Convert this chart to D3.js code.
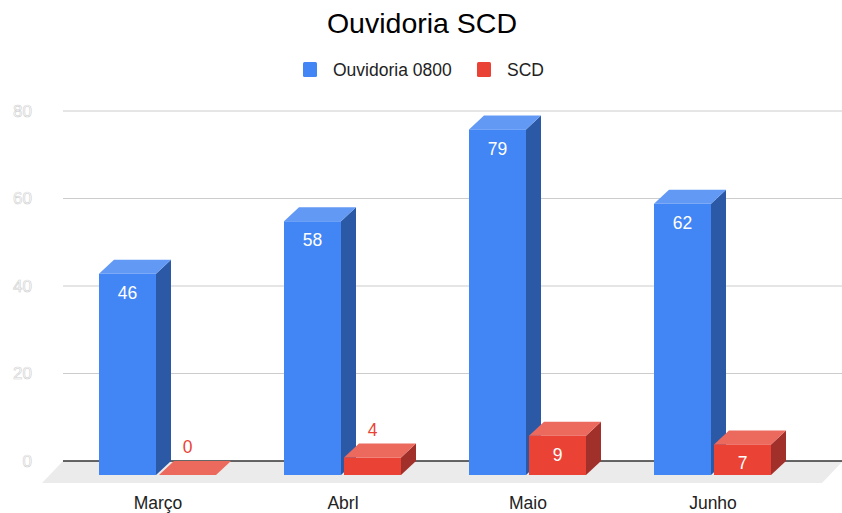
<!DOCTYPE html>
<html>
<head>
<meta charset="utf-8">
<script src="https://cdn.jsdelivr.net/npm/d3@7"></script>
<style>
  body { margin: 0; background: #fff; }
  svg { font-family: "Liberation Sans", Arial, sans-serif; }
</style>
</head>
<body>
<div id="chart"></div>
<script>
// data
const months = ["Março", "Abrl", "Maio", "Junho"];
const seriesNames = ["Ouvidoria 0800", "SCD"];
const ouvidoria = [46, 58, 79, 62];
const scd = [0, 4, 9, 7];
const yTicks = [0, 20, 40, 60, 80];

const width = 842, height = 513;
const left = 63, right = 843;
const dx = 15, dy = 14;     // 3d depth of bars
const floorDepth = 22;

const colors = {
  "Ouvidoria 0800": { front: "#4285f4", top: "#6299f5", side: "#2c59a5" },
  "SCD": { front: "#ea4335", top: "#ec695d", side: "#a2302a" }
};

const rows = months.map((m, i) => ({ month: m, values: [
  { s: seriesNames[0], v: ouvidoria[i] },
  { s: seriesNames[1], v: scd[i] }
]}));

let y = d3.scaleLinear().domain([0, 80]).range([461, 111]);
let x = d3.scaleBand().domain(months).range([65.5, 805.5]);
let xs = d3.scaleBand().domain(seriesNames).range([-59, 58]).paddingInner(0.05);

let svg = d3.select("#chart").append("svg")
  .attr("width", width)
  .attr("height", height);

// title
svg.append("text")
  .attr("x", 422).attr("y", 33)
  .attr("text-anchor", "middle")
  .attr("font-size", 28.5)
  .attr("fill", "#000")
  .text("Ouvidoria SCD");

// legend
const legendX = [303, 477];
let lg = svg.selectAll(".legend").data(seriesNames).enter().append("g")
  .attr("class", "legend")
  .attr("transform", (d, i) => "translate(" + legendX[i] + ",62)");
lg.append("rect").attr("width", 14).attr("height", 15).attr("rx", 1.5)
  .attr("fill", d => colors[d].front);
lg.append("text").attr("x", 30).attr("y", 14)
  .attr("font-size", 17.5).attr("fill", "#222").text(d => d);

// gridlines
svg.selectAll(".grid").data(yTicks.filter(t => t > 0)).enter().append("line")
  .attr("x1", left).attr("x2", right)
  .attr("y1", d => y(d)).attr("y2", d => y(d))
  .attr("stroke", "#cccccc").attr("stroke-width", 1);

// y tick labels (white with outline)
svg.selectAll(".ytick").data(yTicks).enter().append("text")
  .attr("x", 32).attr("y", d => y(d))
  .attr("dy", "0.35em")
  .attr("text-anchor", "end")
  .attr("font-size", 17)
  .attr("fill", "#fff")
  .attr("stroke", "#cfcfcf").attr("stroke-width", 0.6)
  .text(d => d);

// floor
svg.append("path")
  .attr("d", d3.line()([
    [left, y(0)], [right, y(0)],
    [right - floorDepth + 1, y(0) + floorDepth], [left - floorDepth + 1, y(0) + floorDepth]
  ]) + "Z")
  .attr("fill", "#ebebeb");

svg.append("line")
  .attr("x1", left).attr("x2", right)
  .attr("y1", y(0)).attr("y2", y(0))
  .attr("stroke", "#333").attr("stroke-width", 1.5);

// bars
const line = d3.line();
let groups = svg.selectAll(".month").data(rows).enter().append("g")
  .attr("class", "month")
  .attr("transform", d => "translate(" + (x(d.month) + x.bandwidth() / 2) + ",0)");

let bars = groups.selectAll(".bar").data(d => d.values).enter().append("g")
  .attr("class", "bar")
  .each(function (d) {
    const g = d3.select(this);
    const w = xs.bandwidth();
    const x0 = xs(d.s), x1 = x0 + w;
    const yb = y(0) + dy, yt = y(d.v) + dy;
    const c = colors[d.s];
    if (d.v > 0) {
      g.append("rect").attr("x", x0).attr("y", yt)
        .attr("width", w).attr("height", yb - yt).attr("fill", c.front);
      g.append("path")
        .attr("d", line([[x1, yt], [x1 + dx, yt - dy], [x1 + dx, yb - dy], [x1, yb]]) + "Z")
        .attr("fill", c.side);
    }
    g.append("path")
      .attr("d", line([[x0, yt], [x0 + dx, yt - dy], [x1 + dx, yt - dy], [x1, yt]]) + "Z")
      .attr("fill", c.top);

    const h = yb - yt;
    const lx = x0 + w / 2;
    if (h > 25) {
      g.append("text")
        .attr("x", lx).attr("y", Math.min(yt + 19, (yt + yb) / 2 + 3))
        .attr("dy", "0.35em")
        .attr("text-anchor", "middle")
        .attr("font-size", 17.5)
        .attr("fill", "#fff")
        .text(d.v);
    } else {
      g.append("text")
        .attr("x", lx).attr("y", y(d.v) - 14)
        .attr("dy", "0.35em")
        .attr("text-anchor", "middle")
        .attr("font-size", 17.5)
        .attr("fill", c.front)
        .attr("stroke", "#fff").attr("stroke-width", 3)
        .attr("paint-order", "stroke")
        .text(d.v);
    }
  });

// x labels
svg.selectAll(".xlabel").data(months).enter().append("text")
  .attr("x", d => x(d) + x.bandwidth() / 2)
  .attr("y", 509)
  .attr("text-anchor", "middle")
  .attr("font-size", 17.5)
  .attr("fill", "#222")
  .text(d => d);
</script>
</body>
</html>
